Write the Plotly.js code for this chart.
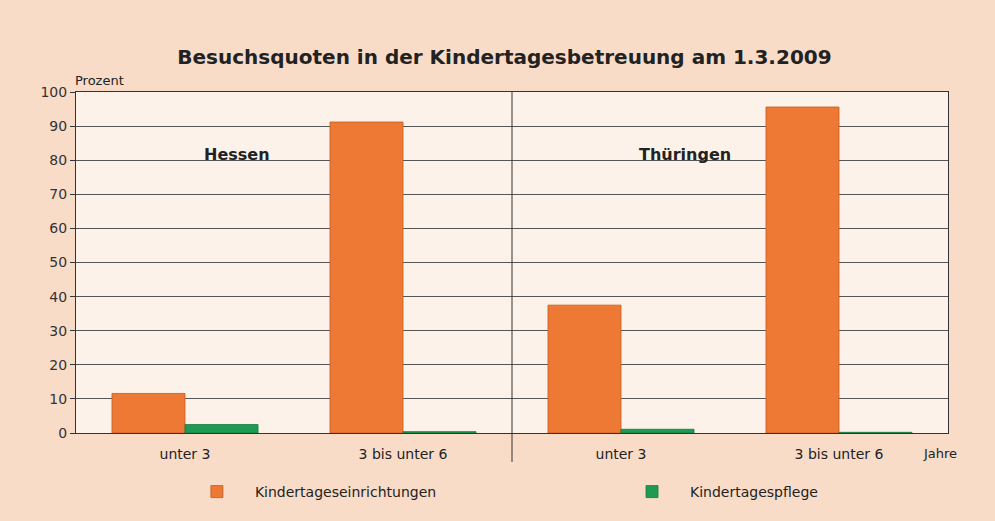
<!DOCTYPE html>
<html>
<head>
<meta charset="utf-8">
<script src="https://cdn.plot.ly/plotly-3.0.1.min.js"></script>
<style>html,body{margin:0;padding:0;background:#f9dcc8;}#chart{width:995px;height:521px;}</style>
</head>
<body>
<div id="chart"></div>
<script>
const categories = ["unter 3", "3 bis unter 6", "unter 3", "3 bis unter 6"];
const regions = ["Hessen", "Thüringen"];
const einrichtungen = [11.6, 91.2, 37.5, 95.6];
const pflege = [2.5, 0.4, 1.1, 0.2];
const seriesNames = ["Kindertageseinrichtungen", "Kindertagespflege"];
const yTicks = [0, 10, 20, 30, 40, 50, 60, 70, 80, 90, 100];

const xIdx = categories.map((c, i) => i);

const traces = [
  {type: "bar", name: seriesNames[0], x: xIdx, y: einrichtungen, legend: "legend",
   marker: {color: "#ee7935", line: {color: "#c25a22", width: 0.8}}},
  {type: "bar", name: seriesNames[1], x: xIdx, y: pflege, legend: "legend2",
   marker: {color: "#1f9a55", line: {color: "#167a42", width: 0.8}}}
];

const legendBase = {orientation: "h", xanchor: "left", y: -0.173, yanchor: "middle",
  itemwidth: 66, font: {size: 14, color: "#222"}, bgcolor: "rgba(0,0,0,0)"};

const layout = {
  width: 995, height: 521,
  paper_bgcolor: "#f9dcc8", plot_bgcolor: "#fdf2ea",
  font: {family: "DejaVu Sans, sans-serif", color: "#222", size: 13},
  margin: {l: 76, r: 47, t: 92, b: 88, autoexpand: false},
  title: {text: "<b>Besuchsquoten in der Kindertagesbetreuung am 1.3.2009</b>",
          font: {size: 20, color: "#222"}, x: 0.507, xanchor: "center", y: 0.89, yanchor: "middle"},
  barmode: "group", bargap: 0.33, bargroupgap: 0,
  showlegend: true,
  legend: Object.assign({}, legendBase, {x: 0.118}),
  legend2: Object.assign({}, legendBase, {x: 0.617}),
  xaxis: {range: [-0.5, 3.5], tickvals: xIdx, ticktext: categories, showgrid: false,
          showline: true, linecolor: "#333", linewidth: 1, mirror: true,
          ticks: "outside", ticklen: 8, tickcolor: "rgba(0,0,0,0)",
          tickfont: {size: 14, color: "#222"}, zeroline: false, fixedrange: true},
  yaxis: {range: [0, 100], tickvals: yTicks, showgrid: true, gridcolor: "#555", gridwidth: 1,
          showline: true, linecolor: "#333", linewidth: 1, mirror: true, ticks: "outside",
          ticklen: 5, tickcolor: "#333", tickfont: {size: 14, color: "#333"}, zeroline: false},
  shapes: [
    {type: "line", xref: "x", yref: "paper", x0: 1.5, x1: 1.5, y0: -0.085, y1: 1,
     line: {color: "#333", width: 1}}
  ],
  annotations: [
    {text: "<b>" + regions[0] + "</b>", xref: "paper", yref: "paper", x: 0.185, y: 0.817,
     xanchor: "center", yanchor: "middle", showarrow: false, font: {size: 16, color: "#222"}},
    {text: "<b>" + regions[1] + "</b>", xref: "paper", yref: "paper", x: 0.698, y: 0.817,
     xanchor: "center", yanchor: "middle", showarrow: false, font: {size: 16, color: "#222"}},
    {text: "Prozent", xref: "paper", yref: "paper", x: -0.003, y: 1.035, xanchor: "left",
     yanchor: "middle", showarrow: false, font: {size: 13, color: "#222"}},
    {text: "Jahre", xref: "paper", yref: "paper", x: 0.991, y: -0.059, xanchor: "center",
     yanchor: "middle", showarrow: false, font: {size: 13, color: "#222"}}
  ]
};

Plotly.newPlot("chart", traces, layout, {displayModeBar: false, staticPlot: true});
</script>
</body>
</html>
